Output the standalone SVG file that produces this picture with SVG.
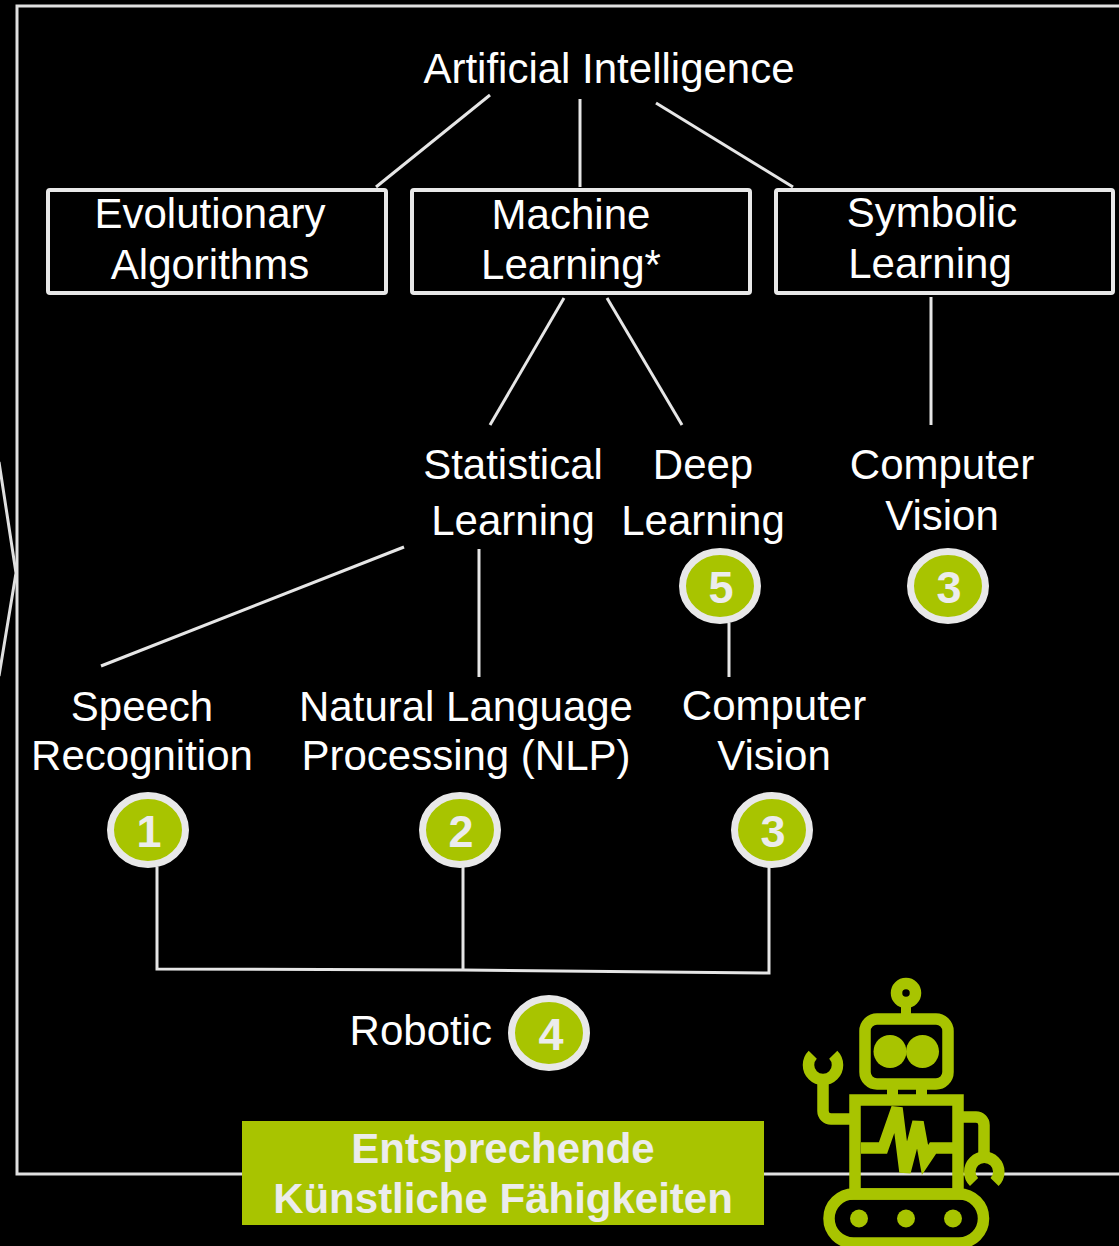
<svg xmlns="http://www.w3.org/2000/svg" width="1119" height="1246" viewBox="0 0 1119 1246">
<defs>
<style>
.t{font-family:"Liberation Sans",Arial,sans-serif;font-size:42px;fill:#ffffff;text-anchor:middle}
.box{fill:#000;stroke:#e8e8e8;stroke-width:4}
.ln{stroke:#e6e6e6;stroke-width:3;fill:none}
.badge ellipse{fill:#a8c400;stroke:#e8e8e8;stroke-width:7}
.badge text{font-family:"Liberation Sans",Arial,sans-serif;font-size:45px;font-weight:bold;fill:#ececec;text-anchor:middle}
.lab{font-family:"Liberation Sans",Arial,sans-serif;font-size:42px;font-weight:bold;fill:#ececec;text-anchor:middle}
.rs{fill:none;stroke:#a8c400;stroke-width:11.5}
.rf{fill:#a8c400}
</style>
</defs>
<rect width="1119" height="1246" fill="#000"/>
<g id="frame">
<rect x="17" y="6" width="1130" height="1168" fill="none" stroke="#e0e0e0" stroke-width="3"/>
<polyline points="-1,462 16,573 -1,676" fill="none" stroke="#e0e0e0" stroke-width="3"/>
</g>
<g id="connectors">
<line class="ln" x1="490" y1="95" x2="376" y2="187"/>
<line class="ln" x1="580" y1="99" x2="580" y2="187"/>
<line class="ln" x1="656" y1="103" x2="793" y2="187"/>
<line class="ln" x1="564" y1="298" x2="490" y2="425"/>
<line class="ln" x1="607" y1="298" x2="682" y2="425"/>
<line class="ln" x1="931" y1="297" x2="931" y2="425"/>
<line class="ln" x1="404" y1="547" x2="101" y2="666"/>
<line class="ln" x1="479" y1="549" x2="479" y2="677"/>
<line class="ln" x1="729" y1="623" x2="729" y2="677"/>
<polyline class="ln" points="157,867 157,969 463,970 769,973 769,867"/>
<line class="ln" x1="463" y1="867" x2="463" y2="970"/>
</g>
<g id="ai"><text class="t" x="609" y="83">Artificial Intelligence</text></g>
<g id="evo">
<rect class="box" x="48" y="190" width="338" height="103" rx="2"/>
<text class="t" x="210" y="228">Evolutionary</text>
<text class="t" x="210" y="279">Algorithms</text>
</g>
<g id="ml">
<rect class="box" x="412" y="190" width="338" height="103" rx="2"/>
<text class="t" x="571" y="229">Machine</text>
<text class="t" x="571" y="279">Learning*</text>
</g>
<g id="sym">
<rect class="box" x="776" y="190" width="337" height="103" rx="2"/>
<text class="t" x="932" y="227">Symbolic</text>
<text class="t" x="930" y="278">Learning</text>
</g>
<g id="stat">
<text class="t" x="513" y="479">Statistical</text>
<text class="t" x="513" y="535">Learning</text>
</g>
<g id="deep">
<text class="t" x="703" y="479">Deep</text>
<text class="t" x="703" y="535">Learning</text>
</g>
<g id="cv1">
<text class="t" x="942" y="479">Computer</text>
<text class="t" x="942" y="530">Vision</text>
</g>
<g id="speech">
<text class="t" x="142" y="721">Speech</text>
<text class="t" x="142" y="770">Recognition</text>
</g>
<g id="nlp">
<text class="t" x="466" y="721">Natural Language</text>
<text class="t" x="466" y="770">Processing (NLP)</text>
</g>
<g id="cv2">
<text class="t" x="774" y="720">Computer</text>
<text class="t" x="774" y="770">Vision</text>
</g>
<g id="robotic"><text class="t" x="492" y="1045" style="text-anchor:end">Robotic</text></g>
<g id="b5" class="badge"><ellipse cx="720" cy="586" rx="37.5" ry="34.5"/><text x="721" y="603">5</text></g>
<g id="b3a" class="badge"><ellipse cx="948" cy="586" rx="37.5" ry="34.5"/><text x="949" y="603">3</text></g>
<g id="b1" class="badge"><ellipse cx="148" cy="830" rx="37.5" ry="34.5"/><text x="149" y="847">1</text></g>
<g id="b2" class="badge"><ellipse cx="460" cy="830" rx="37.5" ry="34.5"/><text x="461" y="847">2</text></g>
<g id="b3b" class="badge"><ellipse cx="772" cy="830" rx="37.5" ry="34.5"/><text x="773" y="847">3</text></g>
<g id="b4" class="badge"><ellipse cx="549" cy="1033" rx="37.5" ry="34.5"/><text x="551" y="1050">4</text></g>
<g id="label">
<rect x="242" y="1121" width="522" height="104" fill="#a8c400"/>
<text class="lab" x="503" y="1163">Entsprechende</text>
<text class="lab" x="503" y="1213">Künstliche Fähigkeiten</text>
</g>
<g id="robot">
<circle class="rs" cx="906" cy="993" r="9.5" stroke-width="11"/>
<rect class="rf" x="901" y="1002" width="10" height="14"/>
<rect class="rs" x="865" y="1019" width="83" height="65" rx="12"/>
<circle class="rf" cx="890" cy="1051.5" r="16.5"/>
<circle class="rf" cx="922.5" cy="1051.5" r="16.5"/>
<rect class="rf" x="887" y="1086" width="11" height="10"/>
<rect class="rf" x="916" y="1086" width="11" height="10"/>
<rect class="rs" x="855" y="1100" width="103" height="94"/>
<rect class="rs" x="829" y="1194" width="154.5" height="49" rx="24.5" stroke-width="12"/>
<circle class="rf" cx="859" cy="1218.5" r="9"/>
<circle class="rf" cx="906" cy="1218.5" r="9"/>
<circle class="rf" cx="953" cy="1218.5" r="9"/>
<polyline class="rs" stroke-width="10" points="861,1148 883,1148 897,1108 905,1172 918,1122 925,1160 933,1148 953,1148"/>
<path class="rs" d="M833.25,1054.75 A14.5,14.5 0 1 1 812.75,1054.75"/>
<path class="rs" d="M823,1078 V1111 A8,8 0 0 0 831,1119 H852"/>
<path class="rs" d="M960,1117 H976 A8,8 0 0 1 984,1125 V1156"/>
<path class="rs" d="M974.05,1181.95 A14.5,14.5 0 1 1 994.55,1181.95"/>
</g>
</svg>
